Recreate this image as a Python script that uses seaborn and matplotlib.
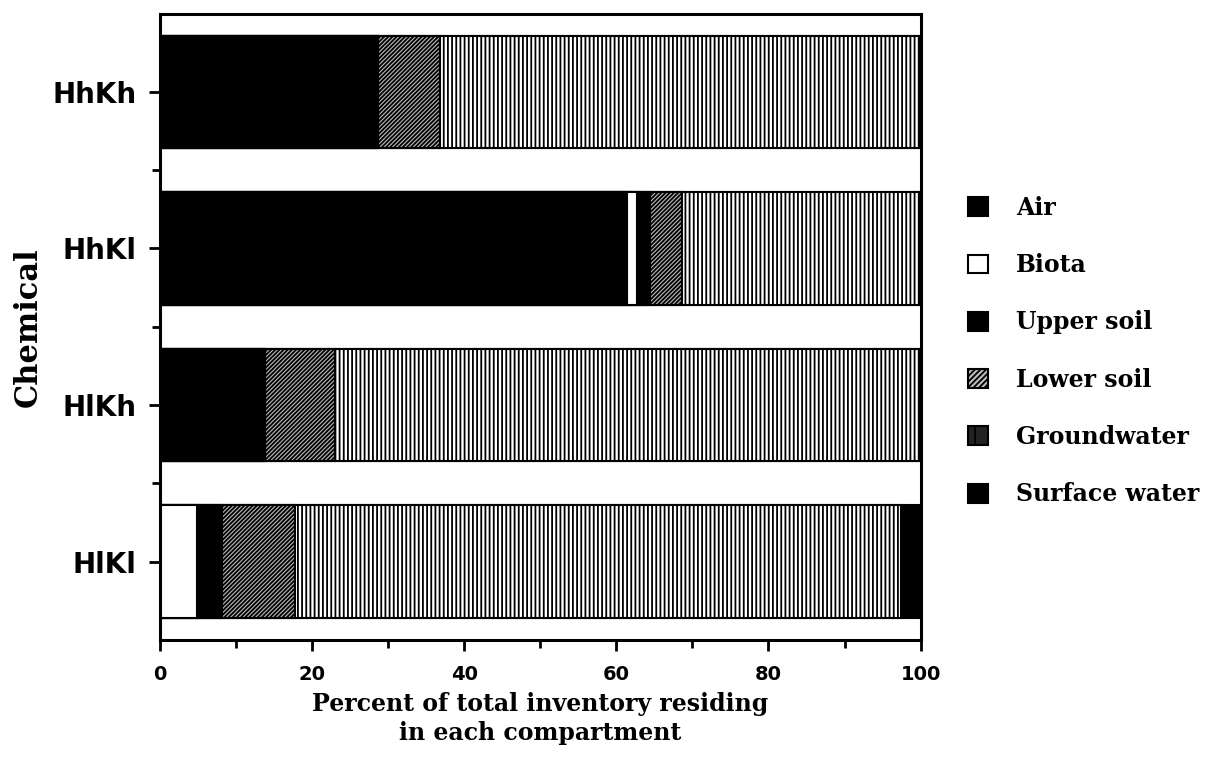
import numpy as np
import pandas as pd
import matplotlib
matplotlib.use("Agg")
import matplotlib.pyplot as plt
import seaborn as sns
from matplotlib.patches import Patch

# percent of total inventory in each compartment
chemicals = ["HhKh", "HhKl", "HlKh", "HlKl"]
compartments = ["Air", "Biota", "Upper soil", "Lower soil", "Groundwater", "Surface water"]
air = [28.6, 61.4, 13.8, 0.0]
biota = [0.0, 1.3, 0.0, 4.9]
upper_soil = [0.0, 1.7, 0.0, 3.3]
lower_soil = [8.2, 4.2, 9.2, 9.5]
groundwater = [63.0, 31.3, 76.8, 79.7]
surface_water = [0.2, 0.1, 0.2, 2.6]

df = pd.DataFrame({"Chemical": chemicals, "Air": air, "Biota": biota,
                   "Upper soil": upper_soil, "Lower soil": lower_soil,
                   "Groundwater": groundwater, "Surface water": surface_water})
cum = df[compartments].cumsum(axis=1)

styles = {
    "Air": dict(facecolor="black", hatch=None),
    "Biota": dict(facecolor="white", hatch=None),
    "Upper soil": dict(facecolor="black", hatch=None),
    "Lower soil": dict(facecolor="#bbbbbb", hatch="////////"),
    "Groundwater": dict(facecolor="white", hatch="||||"),
    "Surface water": dict(facecolor="black", hatch=None),
}

sns.set_style("ticks")
plt.rcParams["hatch.linewidth"] = 1.3
plt.rcParams["hatch.color"] = "black"
plt.rcParams["text.color"] = "black"
plt.rcParams["axes.labelcolor"] = "black"
plt.rcParams["xtick.color"] = "black"
plt.rcParams["ytick.color"] = "black"
plt.rcParams["axes.edgecolor"] = "black"

fig = plt.figure(figsize=(12.21, 7.59), dpi=100)
ax = fig.add_axes([0.131, 0.157, 0.623, 0.825])

# draw cumulative bars from the last compartment back, each covering the previous
for comp in compartments[::-1]:
    d = pd.DataFrame({"Chemical": chemicals, "value": cum[comp]})
    st = styles[comp]
    sns.barplot(data=d, x="value", y="Chemical", order=chemicals, orient="h",
                color=st["facecolor"], width=0.72, edgecolor="black",
                linewidth=1.5, hatch=st["hatch"], ax=ax)
    for p in ax.patches[-len(chemicals):]:
        p.set_facecolor(st["facecolor"])

ax.set_xlim(0, 100)
ax.set_ylim(3.5, -0.5)
ax.set_xticks(np.arange(0, 101, 20))
ax.set_xticks(np.arange(10, 100, 20), minor=True)
ax.set_yticks(range(len(chemicals)))
ax.set_yticks(np.arange(0.5, len(chemicals) - 0.5, 1), minor=True)
for s in ax.spines.values():
    s.set_linewidth(2.2)
    s.set_visible(True)
ax.tick_params(axis="both", width=2, length=8, direction="out")
ax.tick_params(axis="both", which="minor", width=2, length=6)
ax.tick_params(axis="x", pad=10)
ax.tick_params(axis="y", pad=9)

for lab in ax.get_xticklabels():
    lab.set_fontfamily("DejaVu Sans")
    lab.set_fontweight("bold")
    lab.set_fontsize(14)
for lab in ax.get_yticklabels():
    lab.set_fontfamily("DejaVu Sans")
    lab.set_fontweight("bold")
    lab.set_fontsize(20)

ax.set_xlabel("Percent of total inventory residing\nin each compartment",
              fontfamily="DejaVu Serif", fontweight="bold", fontsize=17,
              labelpad=6, linespacing=1.25)
ax.set_ylabel("Chemical", fontfamily="DejaVu Serif", fontweight="bold",
              fontsize=22, labelpad=6)

legend_faces = {"Air": ("black", None), "Biota": ("white", None),
                "Upper soil": ("black", None), "Lower soil": ("#bbbbbb", "//////"),
                "Groundwater": ("#222222", "|"), "Surface water": ("black", None)}
handles = [Patch(facecolor=legend_faces[c][0], hatch=legend_faces[c][1],
                 edgecolor="black", linewidth=1.5, label=c) for c in compartments]
fig.legend(handles=handles, loc="upper left", bbox_to_anchor=(0.775, 0.77),
           frameon=False, handlelength=0.85, handleheight=0.85,
           handletextpad=1.2, labelspacing=1.41,
           prop={"family": "DejaVu Serif", "weight": "bold", "size": 17})

fig.savefig("out.png", dpi=100)
